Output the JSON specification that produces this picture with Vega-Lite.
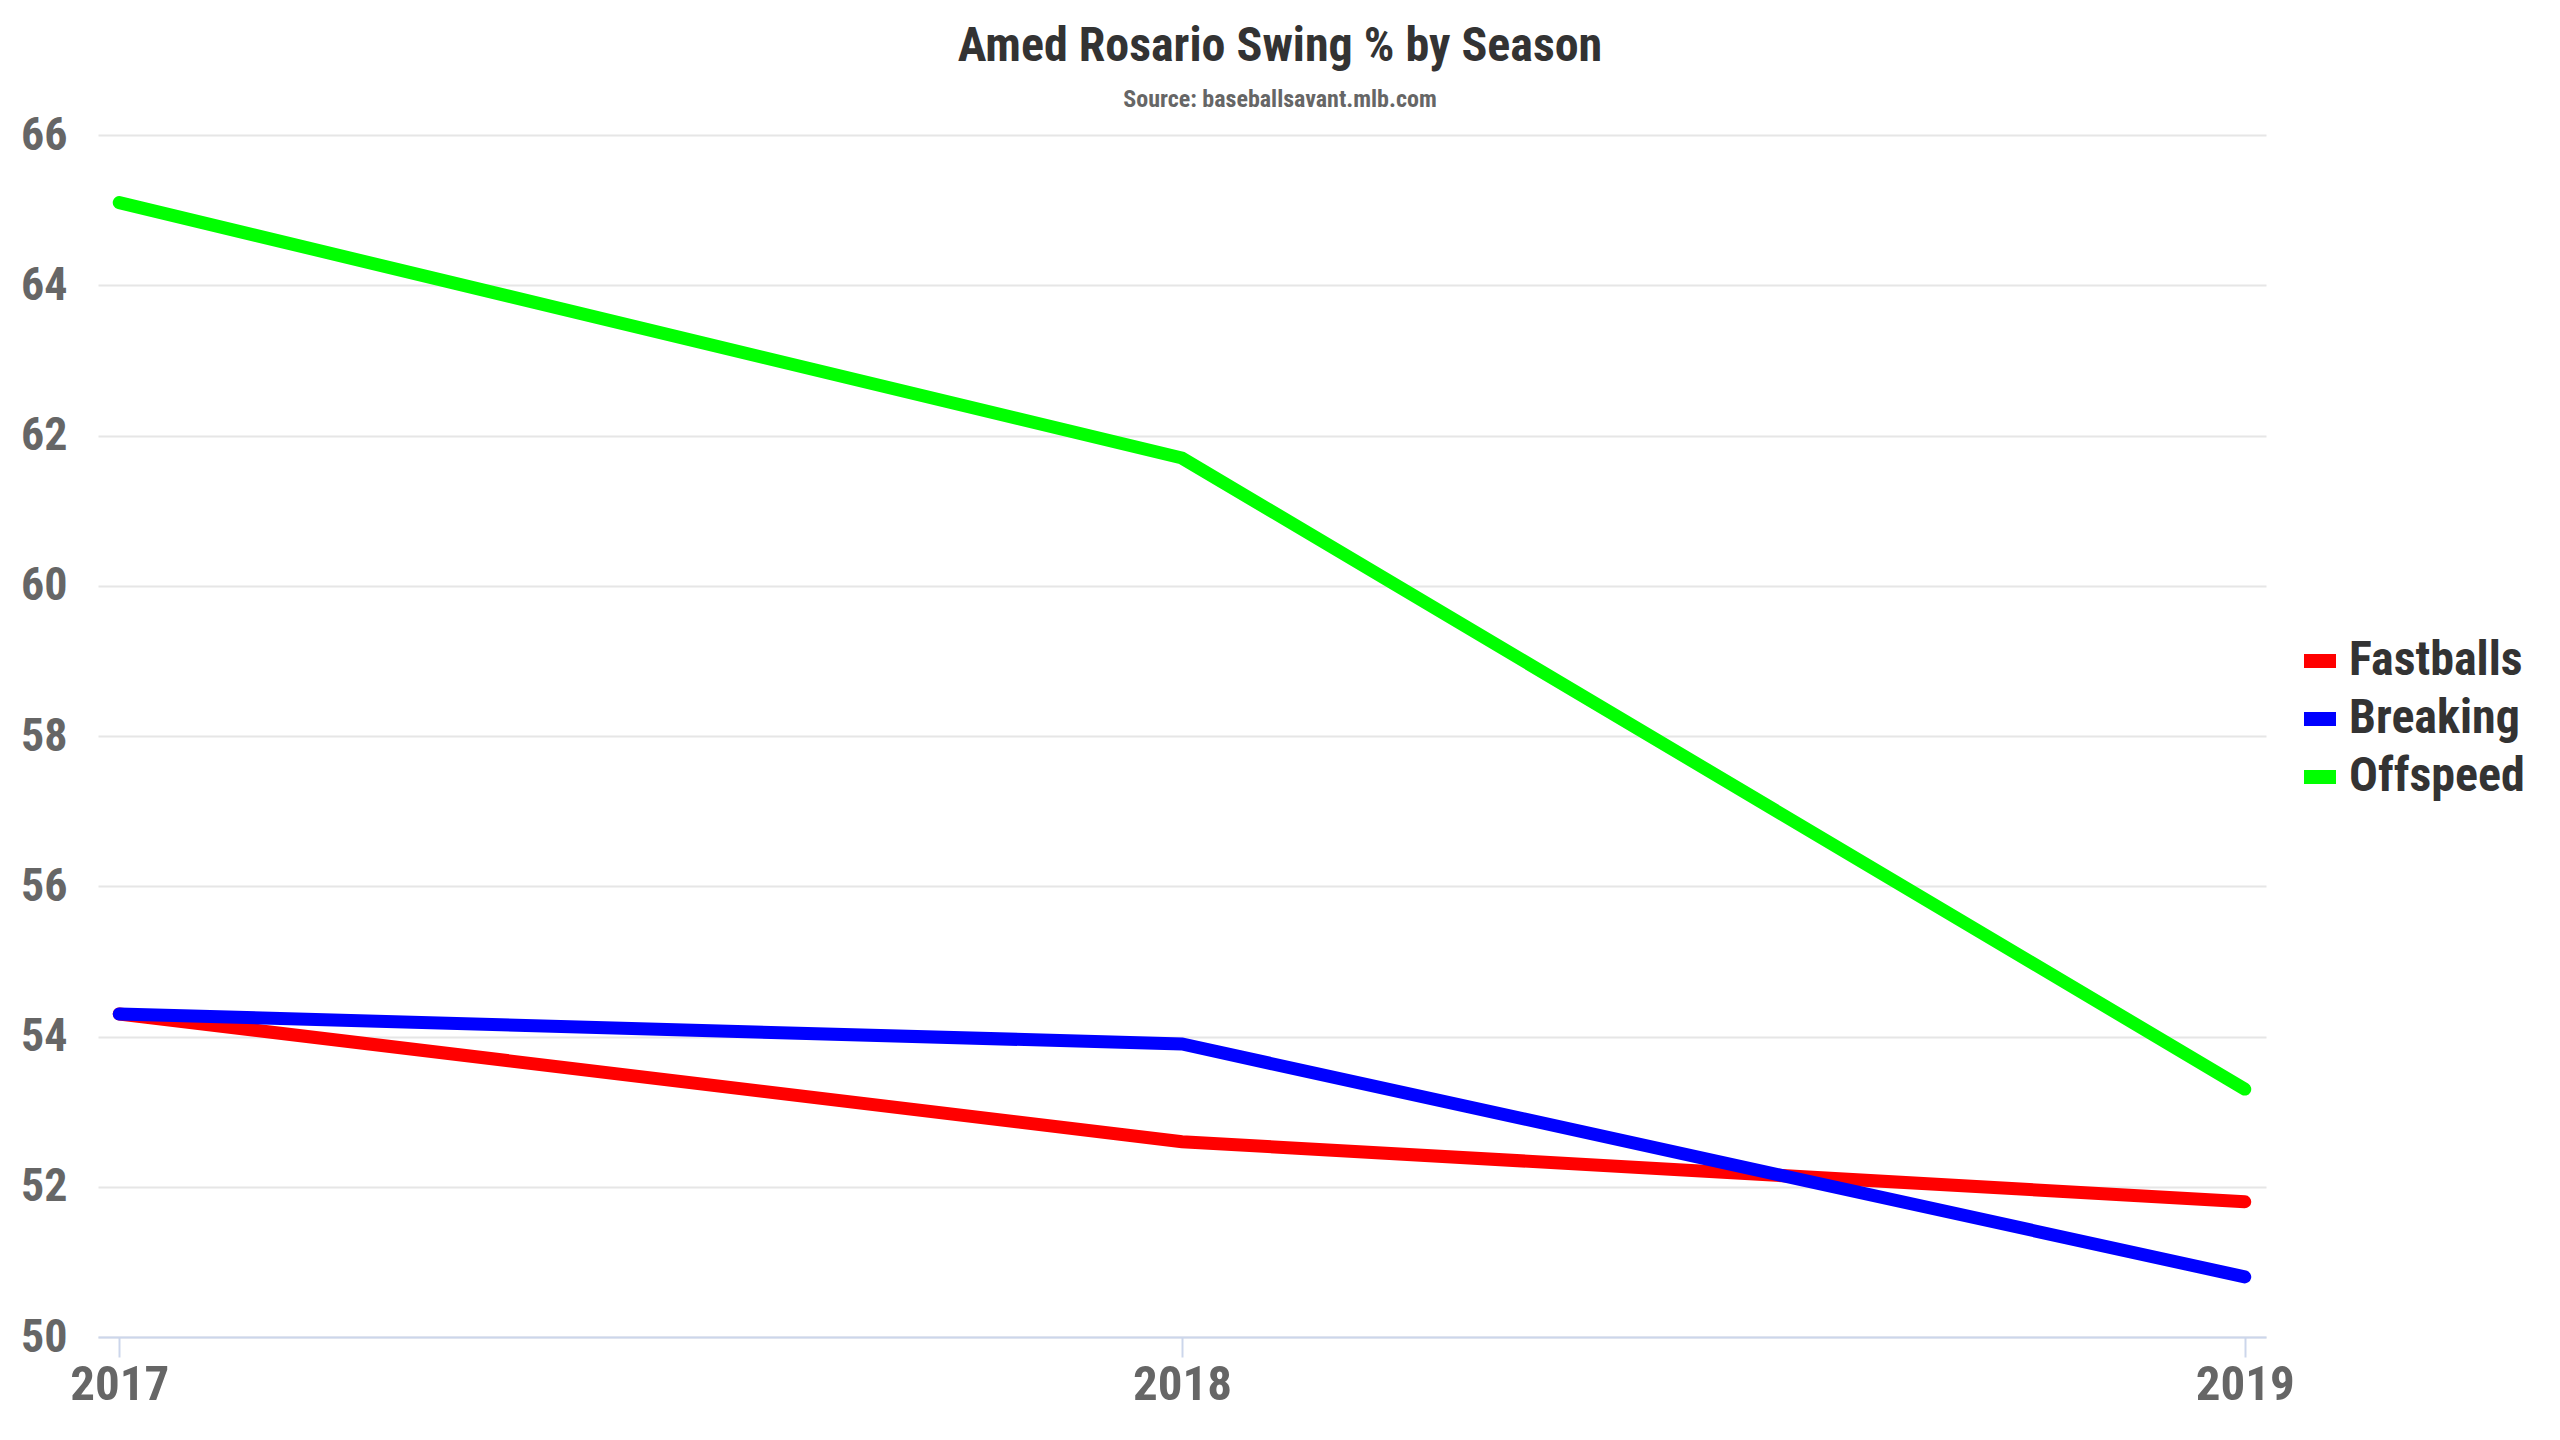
{
  "$schema": "https://vega.github.io/schema/vega-lite/v6.json",
  "width": 2168,
  "height": 1202,
  "autosize": {"type": "none"},
  "padding": {"left": 98, "top": 135, "right": 294, "bottom": 103},
  "background": "#ffffff",
  "title": {
    "text": "Amed Rosario Swing % by Season",
    "subtitle": "Source: baseballsavant.mlb.com",
    "anchor": "middle",
    "dx": 98,
    "offset": 0,
    "font": "Roboto Condensed, Roboto",
    "fontSize": 48,
    "fontWeight": "bold",
    "color": "#333333",
    "subtitleFont": "Roboto Condensed, Roboto",
    "subtitleFontSize": 24,
    "subtitleFontWeight": "bold",
    "subtitleColor": "#666666",
    "subtitlePadding": 17
  },
  "data": {
    "values": [
      {"season": "2017", "pitch": "Fastballs", "swing": 54.3},
      {"season": "2018", "pitch": "Fastballs", "swing": 52.6},
      {"season": "2019", "pitch": "Fastballs", "swing": 51.8},
      {"season": "2017", "pitch": "Breaking", "swing": 54.3},
      {"season": "2018", "pitch": "Breaking", "swing": 53.9},
      {"season": "2019", "pitch": "Breaking", "swing": 50.8},
      {"season": "2017", "pitch": "Offspeed", "swing": 65.1},
      {"season": "2018", "pitch": "Offspeed", "swing": 61.7},
      {"season": "2019", "pitch": "Offspeed", "swing": 53.3}
    ]
  },
  "mark": {"type": "line", "strokeWidth": 13, "strokeCap": "round", "strokeJoin": "miter"},
  "encoding": {
    "x": {
      "field": "season",
      "type": "ordinal",
      "scale": {"type": "point", "padding": 0.02},
      "axis": {
        "title": null,
        "labelAngle": 0,
        "grid": false,
        "domainColor": "#ccd6eb",
        "domainWidth": 2,
        "tickColor": "#ccd6eb",
        "tickWidth": 2,
        "tickSize": 20,
        "labelPadding": 3,
        "labelFont": "Roboto Condensed, Roboto",
        "labelFontSize": 49,
        "labelFontWeight": "bold",
        "labelColor": "#666666"
      }
    },
    "y": {
      "field": "swing",
      "type": "quantitative",
      "scale": {"domain": [50, 66], "nice": false, "zero": false},
      "axis": {
        "title": null,
        "values": [50, 52, 54, 56, 58, 60, 62, 64, 66],
        "domain": false,
        "ticks": false,
        "grid": true,
        "gridColor": "#e6e6e6",
        "gridWidth": 2,
        "labelPadding": 31,
        "labelFont": "Roboto Condensed, Roboto",
        "labelFontSize": 46,
        "labelFontWeight": "bold",
        "labelColor": "#666666"
      }
    },
    "color": {
      "field": "pitch",
      "type": "nominal",
      "scale": {
        "domain": ["Fastballs", "Breaking", "Offspeed"],
        "range": ["#ff0000", "#0000ff", "#00ff00"]
      },
      "legend": {
        "title": null,
        "orient": "none",
        "legendX": 2198,
        "legendY": 502,
        "padding": 0,
        "symbolType": "stroke",
        "symbolSize": 1024,
        "symbolStrokeWidth": 14,
        "labelFont": "Roboto Condensed, Roboto",
        "labelFontSize": 48,
        "labelFontWeight": "bold",
        "labelColor": "#333333",
        "labelOffset": 5,
        "rowPadding": 2,
        "labelLimit": 400
      }
    }
  },
  "config": {
    "view": {"stroke": null}
  }
}
